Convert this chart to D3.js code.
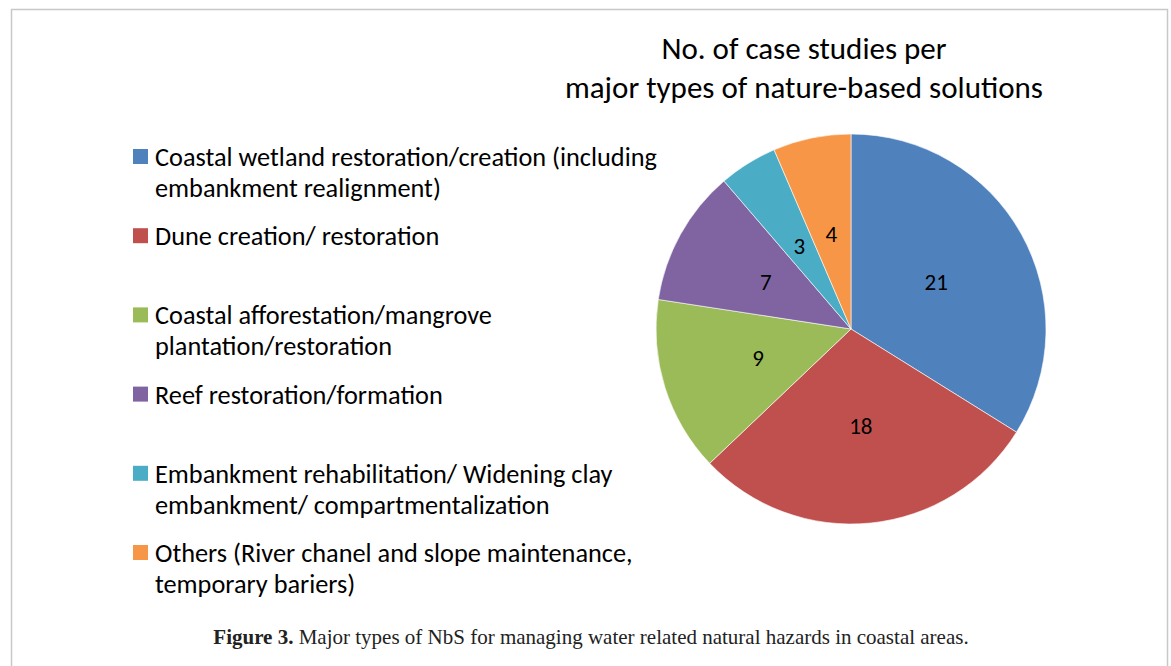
<!DOCTYPE html>
<html>
<head>
<meta charset="utf-8">
<script src="https://cdn.jsdelivr.net/npm/d3@7"></script>
<style>
  body { margin: 0; background: #fff; }
  svg { display: block; }
</style>
</head>
<body>
<div id="chart"></div>
<script>
// categories + counts
const categories = [
  'Coastal wetland restoration/creation (including embankment realignment)',
  'Dune creation/ restoration',
  'Coastal afforestation/mangrove plantation/restoration',
  'Reef restoration/formation',
  'Embankment rehabilitation/ Widening clay embankment/ compartmentalization',
  'Others (River chanel and slope maintenance, temporary bariers)'
];
// legend text as it wraps in the original
const legendLines = [
  ['Coastal wetland restoration/creation (including', 'embankment realignment)'],
  ['Dune creation/ restoration'],
  ['Coastal afforestation/mangrove', 'plantation/restoration'],
  ['Reef restoration/formation'],
  ['Embankment rehabilitation/ Widening clay', 'embankment/ compartmentalization'],
  ['Others (River chanel and slope maintenance,', 'temporary bariers)']
];
const counts = [21, 18, 9, 7, 3, 4];
const colors = ['#4F81BD', '#C0504D', '#9BBB59', '#8064A2', '#4BACC6', '#F79646'];
const titleLines = ['No. of case studies per', 'major types of nature-based solutions'];

const width = 1171, height = 666;
const font = 'Calibri, Carlito, Lato, sans-serif';

let svg = d3.select('#chart').append('svg')
    .attr('width', width)
    .attr('height', height);

// light frame around the figure
svg.append('rect')
    .attr('x', 11.5)
    .attr('y', 9.5)
    .attr('width', 1156)
    .attr('height', 700)
    .attr('fill', 'none')
    .attr('stroke', '#c8c8c8')
    .attr('stroke-width', 1.5);

// title
svg.append('text')
    .attr('x', 804)
    .attr('y', 59)
    .attr('text-anchor', 'middle')
    .style('font-family', font)
    .style('font-size', '31px')
    .style('fill', '#000')
  .selectAll('tspan')
  .data(titleLines)
  .join('tspan')
    .attr('x', 804)
    .attr('dy', (d, i) => i === 0 ? 0 : 39)
    .text(d => d);

// pie
let radius = 195;
let pieG = svg.append('g')
    .attr('transform', 'translate(851,329)');

let pie = d3.pie().sort(null).value(d => d);
let arc = d3.arc().innerRadius(0).outerRadius(radius);
let arcs = pie(counts);

pieG.selectAll('path')
  .data(arcs)
  .join('path')
    .attr('d', arc)
    .attr('fill', (d, i) => colors[i])
    .attr('stroke', '#fff')
    .attr('stroke-width', 0.6);

pieG.selectAll('text')
  .data(arcs)
  .join('text')
    .attr('transform', d => 'translate(' + arc.centroid(d) + ')')
    .attr('text-anchor', 'middle')
    .attr('dy', '0.35em')
    .style('font-family', font)
    .style('font-size', '23px')
    .style('fill', '#000')
    .text(d => d.data);

// legend
let legendY = d3.scaleLinear().domain([0, categories.length - 1]).range([166, 562]);
let legend = svg.append('g');

let item = legend.selectAll('g')
  .data(legendLines)
  .join('g')
    .attr('transform', (d, i) => 'translate(0,' + legendY(i) + ')');

item.append('rect')
    .attr('x', 133)
    .attr('y', -17)
    .attr('width', 15)
    .attr('height', 15)
    .attr('fill', (d, i) => colors[i]);

item.append('text')
    .style('font-family', font)
    .style('font-size', '26.3px')
    .style('fill', '#000')
  .selectAll('tspan')
  .data(d => d)
  .join('tspan')
    .attr('x', 155)
    .attr('y', (d, i) => i * 31)
    .text(d => d);

// caption
let cap = svg.append('text')
    .attr('x', 591)
    .attr('y', 644)
    .attr('text-anchor', 'middle')
    .style('font-family', '"Liberation Serif", "DejaVu Serif", serif')
    .style('font-size', '21px')
    .style('fill', '#222');
cap.append('tspan').style('font-weight', 'bold').text('Figure 3.');
cap.append('tspan').text(' Major types of NbS for managing water related natural hazards in coastal areas.');
</script>
</body>
</html>
